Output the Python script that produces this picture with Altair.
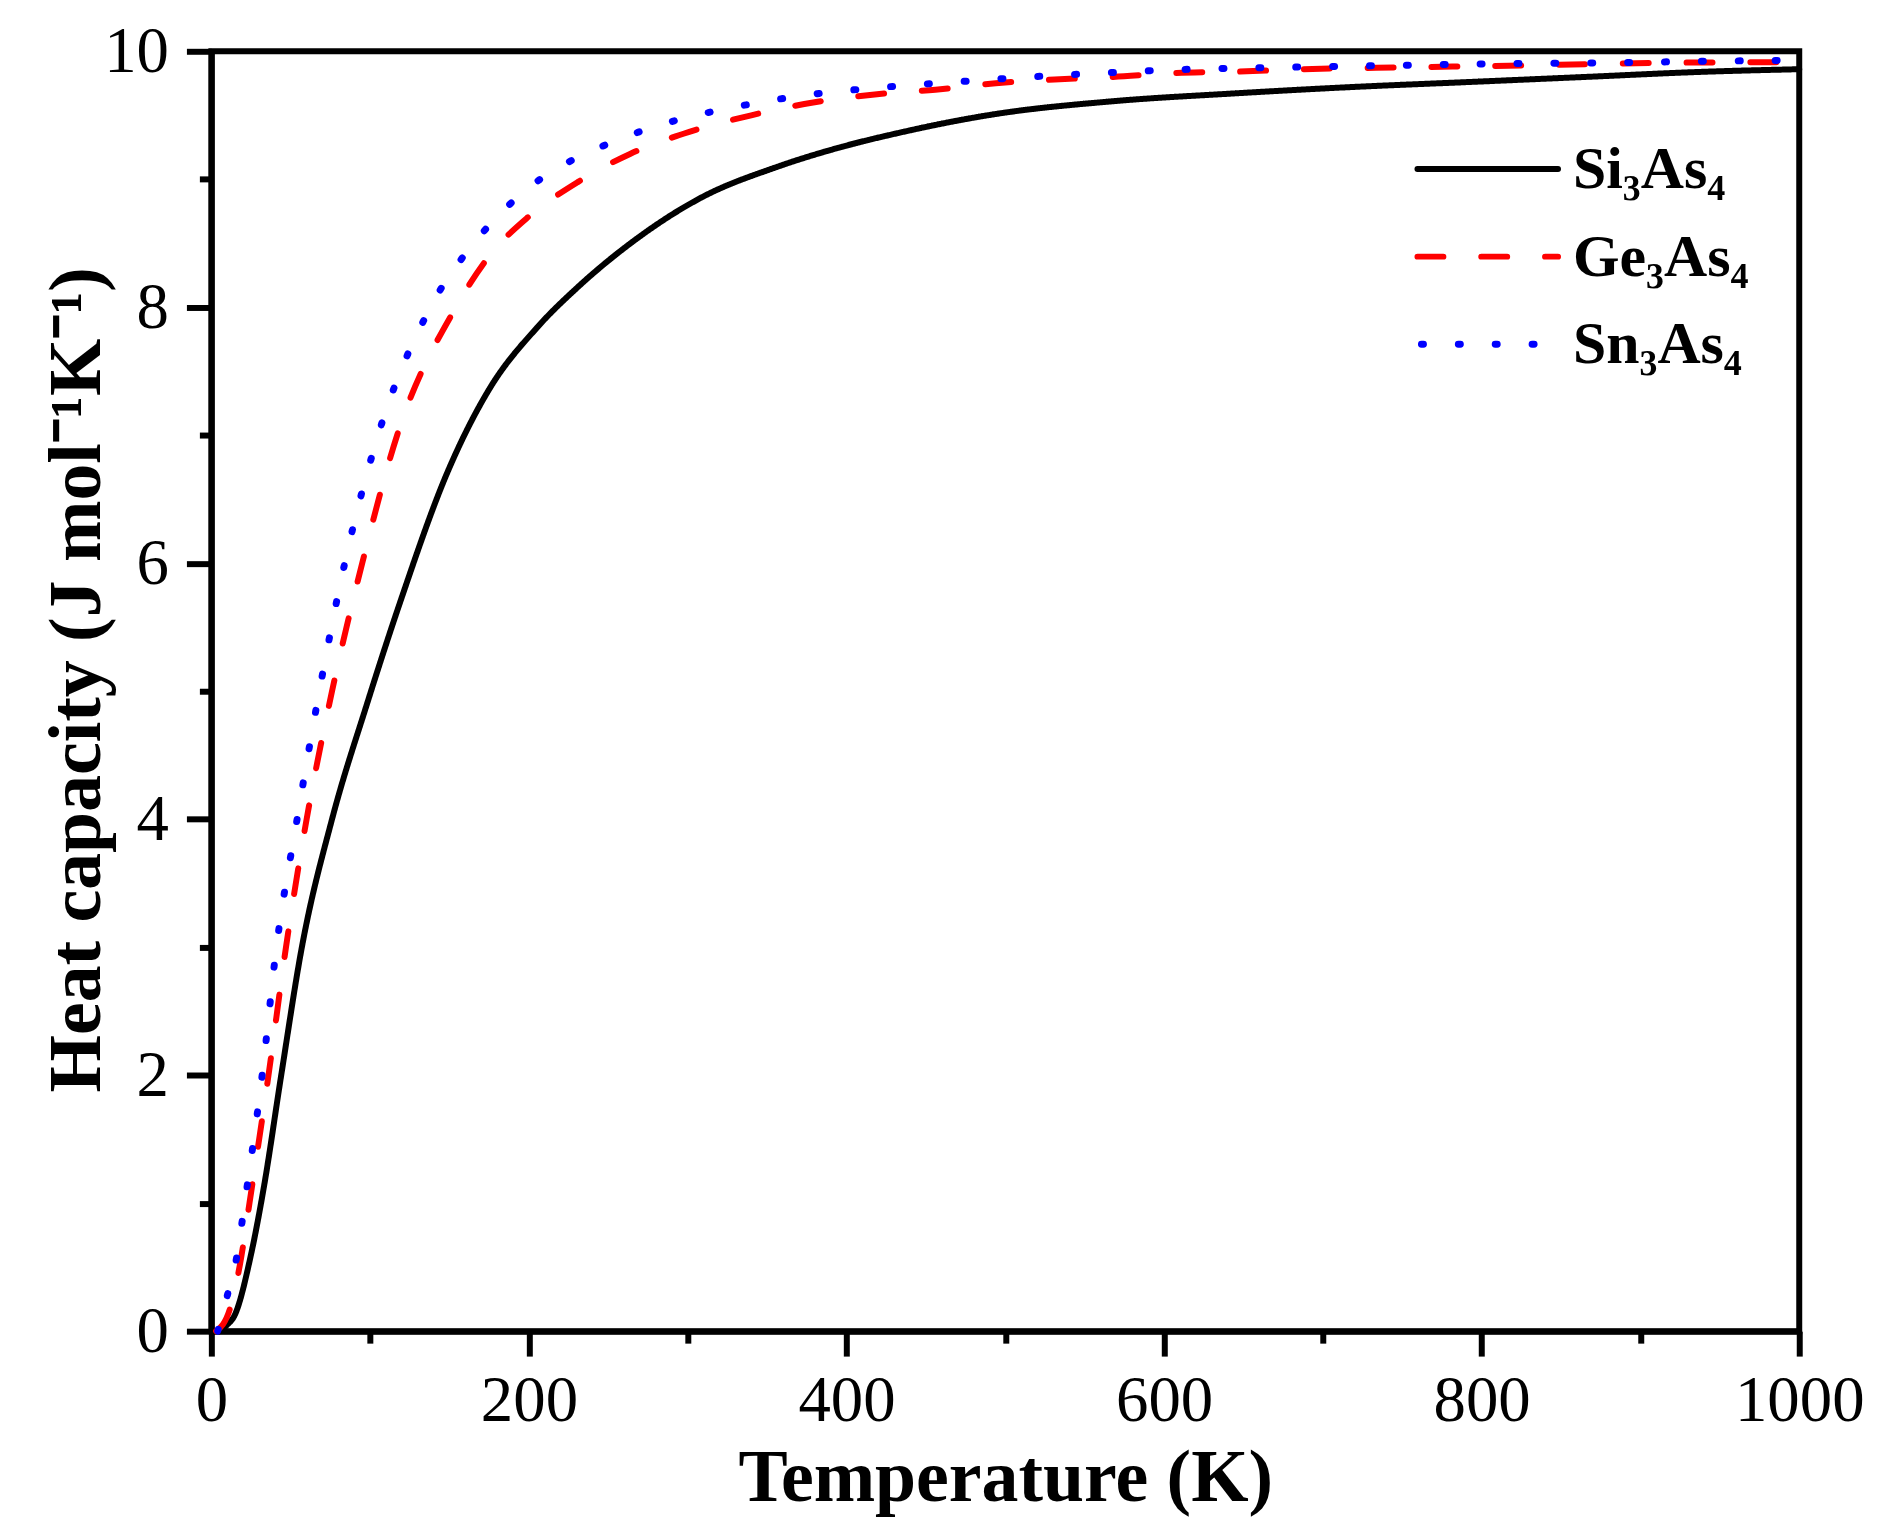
import altair as alt
import pandas as pd

# ---- data ----
series_names = ["Si₃As₄", "Ge₃As₄", "Sn₃As₄"]

si_T = [5, 10, 14.5, 25, 33, 44, 57, 76, 98, 119, 149, 175, 205, 231, 264,
        309, 357, 399, 432, 494, 568, 643, 717, 792, 866, 940, 1000]
si_cp = [0, 0.05, 0.12, 0.6, 1.12, 2.0, 3.0, 4.0, 4.9, 5.7, 6.72, 7.36, 7.84,
         8.16, 8.5, 8.86, 9.1, 9.26, 9.36, 9.51, 9.61, 9.67, 9.72, 9.76, 9.8, 9.84, 9.86]

ge_T = [3, 11.6, 18, 24, 36, 47, 60, 76, 95, 117, 154, 175, 200, 231, 264, 301, 340,
        379, 424, 456, 494, 531, 568, 606, 643, 687, 754, 829, 914, 1000]
ge_cp = [0, 0.17, 0.52, 1.0, 2.0, 3.0, 4.0, 5.0, 6.0, 7.0, 8.0, 8.4, 8.71, 8.98, 9.2,
         9.37, 9.5, 9.6, 9.67, 9.7, 9.75, 9.78, 9.8, 9.83, 9.84, 9.86, 9.875, 9.89, 9.91, 9.915]

sn_T = [4, 10.5, 16, 21, 32, 41, 54, 68, 84, 105, 138, 168, 207, 243, 287, 332, 376,
        424, 468, 516, 561, 605, 654, 699, 747, 792, 881, 929, 1000]
sn_cp = [0, 0.3, 0.58, 1.0, 2.0, 3.0, 4.0, 5.0, 6.0, 7.0, 8.0, 8.54, 9.0, 9.24, 9.44,
         9.57, 9.66, 9.72, 9.76, 9.8, 9.83, 9.855, 9.87, 9.88, 9.89, 9.9, 9.91, 9.92, 9.93]

x_ticks = list(range(0, 1001, 100))
y_ticks = list(range(0, 11, 1))

df = pd.concat([
    pd.DataFrame({"series": series_names[0], "T": si_T, "Cp": si_cp}),
    pd.DataFrame({"series": series_names[1], "T": ge_T, "Cp": ge_cp}),
    pd.DataFrame({"series": series_names[2], "T": sn_T, "Cp": sn_cp}),
], ignore_index=True)

FONT = "Liberation Serif"
W, H = 1593, 1284

styles = [
    dict(color="#000000", strokeWidth=6, strokeDash=[1, 0]),
    dict(color="#FF0000", strokeWidth=6, strokeDash=[26, 38]),
    dict(color="#0000FF", strokeWidth=7, strokeDash=[2, 35]),
]

x_enc = alt.X(
    "T:Q",
    scale=alt.Scale(domain=[0, 1000], nice=False),
    axis=alt.Axis(
        values=x_ticks,
        format="d",
        labelExpr="datum.value % 200 === 0 ? datum.label : ''",
        tickSize={"condition": {"test": "datum.value % 200 === 0", "value": 25}, "value": 12},
        tickWidth=6, tickColor="black",
        domainWidth=6, domainColor="black",
        labelFont=FONT, labelFontSize=65, labelColor="black", labelPadding=14,
        labelFlush=False, labelOverlap=False,
        grid=False,
        title="Temperature (K)",
        titleFont=FONT, titleFontSize=74, titleFontWeight="bold", titleColor="black",
        titleX=W / 2, titleY=170, titleAlign="center", titleBaseline="alphabetic",
    ),
)
y_enc = alt.Y(
    "Cp:Q",
    scale=alt.Scale(domain=[0, 10], nice=False),
    axis=alt.Axis(
        values=y_ticks,
        format="d",
        labelExpr="datum.value % 2 === 0 ? datum.label : ''",
        tickSize={"condition": {"test": "datum.value % 2 === 0", "value": 25}, "value": 12},
        tickWidth=6, tickColor="black",
        domainWidth=6, domainColor="black",
        labelFont=FONT, labelFontSize=65, labelColor="black", labelPadding=18,
        labelFlush=False, labelOverlap=False,
        grid=False,
        title="Heat capacity (J mol⁻¹K⁻¹)",
        titleFont=FONT, titleFontSize=74, titleFontWeight="bold", titleColor="black",
        titleAngle=270, titleX=-112, titleY=630, titleAlign="center",
        titleBaseline="alphabetic",
    ),
)

layers = []
for name, st in zip(series_names, styles):
    layers.append(
        alt.Chart(df).transform_filter(alt.datum.series == name).mark_line(
            color=st["color"], strokeWidth=st["strokeWidth"], strokeDash=st["strokeDash"],
            strokeCap="round", strokeJoin="round", interpolate="monotone",
        ).encode(x=x_enc, y=y_enc)
    )

# manual legend (top right, inside plot)
leg_x0, leg_x1, leg_text_x = 1210, 1351, 1366
leg_rows = [118, 206, 294]
for name, st, ry in zip(series_names, styles, leg_rows):
    start = leg_x0 + (4 if st["strokeDash"][0] == 2 else 0)
    layers.append(
        alt.Chart(alt.InlineData(values=[{"s": name}])).mark_rule(
            color=st["color"], strokeWidth=st["strokeWidth"], strokeDash=st["strokeDash"],
            strokeCap="round",
        ).encode(x=alt.value(start), x2=alt.value(leg_x1), y=alt.value(ry))
    )
    layers.append(
        alt.Chart(alt.InlineData(values=[{"s": name}])).mark_text(
            text=name, font=FONT, fontSize=60, fontWeight="bold", color="black",
            align="left", baseline="alphabetic",
        ).encode(x=alt.value(leg_text_x), y=alt.value(ry + 19))
    )

chart = alt.layer(*layers).properties(
    width=W, height=H,
    autosize=alt.AutoSizeParams(type="none"),
    padding={"left": 204, "top": 41, "right": 76, "bottom": 188},
    background="white",
).configure_view(stroke="black", strokeWidth=6)

chart.save("out.html", embed_options={"renderer": "svg", "actions": False})
